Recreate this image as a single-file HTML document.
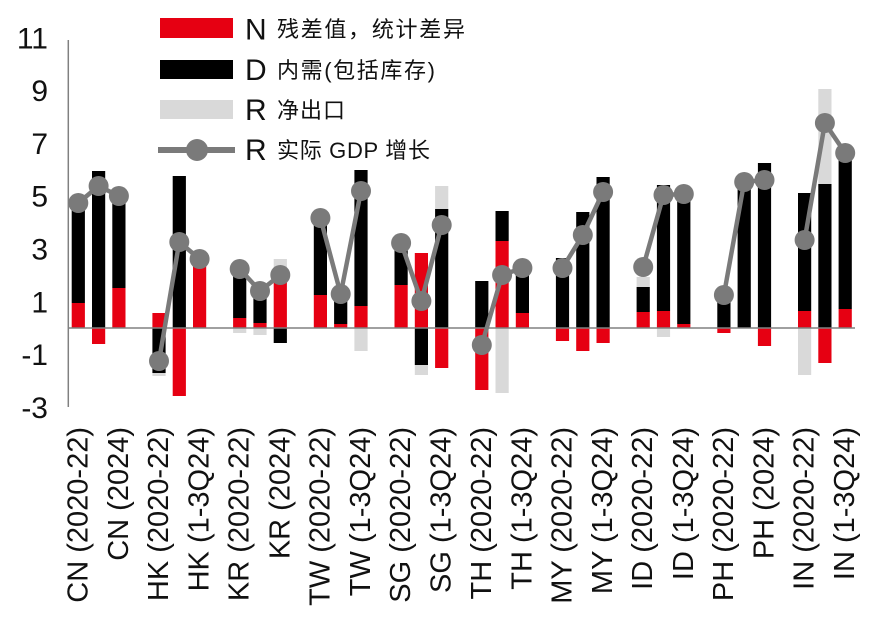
<!DOCTYPE html>
<html>
<head>
<meta charset="utf-8">
<style>
html,body{margin:0;padding:0;background:#fff;}
svg{display:block;}
text{font-family:"Liberation Sans","Noto Sans CJK SC",sans-serif;fill:#111;}
.cjk{font-family:"Liberation Sans","Noto Sans CJK SC",sans-serif;font-size:22px;}
.big{font-size:30px;}
.xl{font-size:29px;}
</style>
</head>
<body>
<svg width="880" height="630" viewBox="0 0 880 630" xmlns="http://www.w3.org/2000/svg">
<rect width="880" height="630" fill="#fff"/>

<!-- Legend -->
<rect x="160" y="18" width="73" height="20" fill="#e60012"/>
<rect x="160" y="60" width="73" height="19" fill="#000"/>
<rect x="160" y="100" width="73" height="19" fill="#d9d9d9"/>
<line x1="158" y1="150" x2="235" y2="150" stroke="#7a7a7a" stroke-width="6"/>
<circle cx="197" cy="150" r="11" fill="#7a7a7a"/>
<text class="big" x="245" y="39.3">N</text>
<text class="big" x="245" y="80">D</text>
<text class="big" x="245" y="120">R</text>
<text class="big" x="245" y="160">R</text>
<text class="cjk" x="277" y="37" textLength="188" lengthAdjust="spacing">残差值，统计差异</text>
<text class="cjk" x="277" y="78" textLength="158" lengthAdjust="spacing">内需(包括库存)</text>
<text class="cjk" x="277" y="118" textLength="68" lengthAdjust="spacing">净出口</text>
<text class="cjk" x="277" y="158" textLength="153" lengthAdjust="spacing">实际 GDP 增长</text>

<!-- Y tick labels -->
<g class="big" text-anchor="end">
<text x="48" y="48.3">11</text>
<text x="48" y="101.1">9</text>
<text x="48" y="153.9">7</text>
<text x="48" y="206.7">5</text>
<text x="48" y="259.5">3</text>
<text x="48" y="312.3">1</text>
<text x="48" y="365.1">-1</text>
<text x="48" y="417.9">-3</text>
</g>

<!-- Bars -->
<g>
<!-- CN -->
<rect x="71.7" y="303" width="13.2" height="25" fill="#e60012"/>
<rect x="71.7" y="205" width="13.2" height="98" fill="#000"/>
<rect x="92.0" y="171" width="13.2" height="157" fill="#000"/>
<rect x="92.0" y="328" width="13.2" height="16" fill="#e60012"/>
<rect x="112.3" y="288" width="13.2" height="40" fill="#e60012"/>
<rect x="112.3" y="197" width="13.2" height="91" fill="#000"/>
<!-- HK -->
<rect x="152.4" y="313" width="13.2" height="15" fill="#e60012"/>
<rect x="152.4" y="328" width="13.2" height="45" fill="#000"/>
<rect x="152.4" y="373" width="13.2" height="3" fill="#d9d9d9"/>
<rect x="172.7" y="176" width="13.2" height="152" fill="#000"/>
<rect x="172.7" y="328" width="13.2" height="68" fill="#e60012"/>
<rect x="193.0" y="262" width="13.2" height="66" fill="#e60012"/>
<!-- KR -->
<rect x="233.1" y="318" width="13.2" height="10" fill="#e60012"/>
<rect x="233.1" y="272" width="13.2" height="46" fill="#000"/>
<rect x="233.1" y="328" width="13.2" height="5" fill="#d9d9d9"/>
<rect x="253.4" y="323" width="13.2" height="5" fill="#e60012"/>
<rect x="253.4" y="292" width="13.2" height="31" fill="#000"/>
<rect x="253.4" y="328" width="13.2" height="7" fill="#d9d9d9"/>
<rect x="273.7" y="275" width="13.2" height="53" fill="#e60012"/>
<rect x="273.7" y="259" width="13.2" height="16" fill="#d9d9d9"/>
<rect x="273.7" y="328" width="13.2" height="15" fill="#000"/>
<!-- TW -->
<rect x="313.8" y="295" width="13.2" height="33" fill="#e60012"/>
<rect x="313.8" y="214" width="13.2" height="81" fill="#000"/>
<rect x="334.1" y="324" width="13.2" height="4" fill="#e60012"/>
<rect x="334.1" y="292" width="13.2" height="32" fill="#000"/>
<rect x="354.4" y="306" width="13.2" height="22" fill="#e60012"/>
<rect x="354.4" y="170" width="13.2" height="136" fill="#000"/>
<rect x="354.4" y="328" width="13.2" height="23" fill="#d9d9d9"/>
<!-- SG -->
<rect x="394.5" y="285" width="13.2" height="43" fill="#e60012"/>
<rect x="394.5" y="242" width="13.2" height="43" fill="#000"/>
<rect x="414.8" y="253" width="13.2" height="75" fill="#e60012"/>
<rect x="414.8" y="328" width="13.2" height="37" fill="#000"/>
<rect x="414.8" y="365" width="13.2" height="10" fill="#d9d9d9"/>
<rect x="435.1" y="209" width="13.2" height="119" fill="#000"/>
<rect x="435.1" y="186" width="13.2" height="23" fill="#d9d9d9"/>
<rect x="435.1" y="328" width="13.2" height="40" fill="#e60012"/>
<!-- TH -->
<rect x="475.2" y="281" width="13.2" height="47" fill="#000"/>
<rect x="475.2" y="328" width="13.2" height="62" fill="#e60012"/>
<rect x="495.5" y="241" width="13.2" height="87" fill="#e60012"/>
<rect x="495.5" y="211" width="13.2" height="30" fill="#000"/>
<rect x="495.5" y="328" width="13.2" height="65" fill="#d9d9d9"/>
<rect x="515.8" y="313" width="13.2" height="15" fill="#e60012"/>
<rect x="515.8" y="268" width="13.2" height="45" fill="#000"/>
<!-- MY -->
<rect x="555.9" y="258" width="13.2" height="70" fill="#000"/>
<rect x="555.9" y="328" width="13.2" height="13" fill="#e60012"/>
<rect x="576.2" y="212" width="13.2" height="116" fill="#000"/>
<rect x="576.2" y="328" width="13.2" height="23" fill="#e60012"/>
<rect x="596.5" y="177" width="13.2" height="151" fill="#000"/>
<rect x="596.5" y="328" width="13.2" height="15" fill="#e60012"/>
<!-- ID -->
<rect x="636.6" y="312" width="13.2" height="16" fill="#e60012"/>
<rect x="636.6" y="287" width="13.2" height="25" fill="#000"/>
<rect x="636.6" y="277" width="13.2" height="10" fill="#d9d9d9"/>
<rect x="656.9" y="311" width="13.2" height="17" fill="#e60012"/>
<rect x="656.9" y="185" width="13.2" height="126" fill="#000"/>
<rect x="656.9" y="328" width="13.2" height="9" fill="#d9d9d9"/>
<rect x="677.2" y="324" width="13.2" height="4" fill="#e60012"/>
<rect x="677.2" y="192" width="13.2" height="132" fill="#000"/>
<!-- PH -->
<rect x="717.3" y="296" width="13.2" height="32" fill="#000"/>
<rect x="717.3" y="328" width="13.2" height="5" fill="#e60012"/>
<rect x="737.6" y="183" width="13.2" height="145" fill="#000"/>
<rect x="757.9" y="163" width="13.2" height="165" fill="#000"/>
<rect x="757.9" y="328" width="13.2" height="18" fill="#e60012"/>
<!-- IN -->
<rect x="798.0" y="311" width="13.2" height="17" fill="#e60012"/>
<rect x="798.0" y="193" width="13.2" height="118" fill="#000"/>
<rect x="798.0" y="328" width="13.2" height="47" fill="#d9d9d9"/>
<rect x="818.3" y="184" width="13.2" height="144" fill="#000"/>
<rect x="818.3" y="89" width="13.2" height="95" fill="#d9d9d9"/>
<rect x="818.3" y="328" width="13.2" height="35" fill="#e60012"/>
<rect x="838.6" y="309" width="13.2" height="19" fill="#e60012"/>
<rect x="838.6" y="160" width="13.2" height="149" fill="#000"/>
</g>

<!-- Axes -->
<line x1="68.3" y1="40" x2="68.3" y2="407" stroke="#808080" stroke-width="1.5"/>
<line x1="68.3" y1="328" x2="855" y2="328" stroke="#808080" stroke-width="1.5"/>

<!-- GDP line series -->
<g fill="none" stroke="#7a7a7a" stroke-width="4.5" stroke-linejoin="round">
<polyline points="78.3,203 98.6,186 118.9,196"/>
<polyline points="159,361 179.3,242 199.6,259"/>
<polyline points="239.7,269 260,291 280.3,275"/>
<polyline points="320.4,218 340.7,294 361,191"/>
<polyline points="401.1,243 421.4,301 441.7,225"/>
<polyline points="481.8,345 502.1,275 522.4,268"/>
<polyline points="562.5,268 582.8,235 603.1,192"/>
<polyline points="643.2,267 663.5,195 683.8,194"/>
<polyline points="723.9,295 744.2,182 764.5,180"/>
<polyline points="804.6,240 824.9,123 845.2,153"/>
</g>
<g fill="#7a7a7a">
<circle cx="78.3" cy="203" r="10"/><circle cx="98.6" cy="186" r="10"/><circle cx="118.9" cy="196" r="10"/>
<circle cx="159" cy="361" r="10"/><circle cx="179.3" cy="242" r="10"/><circle cx="199.6" cy="259" r="10"/>
<circle cx="239.7" cy="269" r="10"/><circle cx="260" cy="291" r="10"/><circle cx="280.3" cy="275" r="10"/>
<circle cx="320.4" cy="218" r="10"/><circle cx="340.7" cy="294" r="10"/><circle cx="361" cy="191" r="10"/>
<circle cx="401.1" cy="243" r="10"/><circle cx="421.4" cy="301" r="10"/><circle cx="441.7" cy="225" r="10"/>
<circle cx="481.8" cy="345" r="10"/><circle cx="502.1" cy="275" r="10"/><circle cx="522.4" cy="268" r="10"/>
<circle cx="562.5" cy="268" r="10"/><circle cx="582.8" cy="235" r="10"/><circle cx="603.1" cy="192" r="10"/>
<circle cx="643.2" cy="267" r="10"/><circle cx="663.5" cy="195" r="10"/><circle cx="683.8" cy="194" r="10"/>
<circle cx="723.9" cy="295" r="10"/><circle cx="744.2" cy="182" r="10"/><circle cx="764.5" cy="180" r="10"/>
<circle cx="804.6" cy="240" r="10"/><circle cx="824.9" cy="123" r="10"/><circle cx="845.2" cy="153" r="10"/>
</g>

<!-- X labels -->
<g class="xl" text-anchor="end">
<text transform="translate(87.3,427) rotate(-90)">CN (2020-22)</text>
<text transform="translate(127.9,427) rotate(-90)">CN (2024)</text>
<text transform="translate(168,427) rotate(-90)">HK (2020-22)</text>
<text transform="translate(208.6,427) rotate(-90)">HK (1-3Q24)</text>
<text transform="translate(248.7,427) rotate(-90)">KR (2020-22)</text>
<text transform="translate(289.3,427) rotate(-90)">KR (2024)</text>
<text transform="translate(329.4,427) rotate(-90)">TW (2020-22)</text>
<text transform="translate(370,427) rotate(-90)">TW (1-3Q24)</text>
<text transform="translate(410.1,427) rotate(-90)">SG (2020-22)</text>
<text transform="translate(450.7,427) rotate(-90)">SG (1-3Q24)</text>
<text transform="translate(490.8,427) rotate(-90)">TH (2020-22)</text>
<text transform="translate(531.4,427) rotate(-90)">TH (1-3Q24)</text>
<text transform="translate(571.5,427) rotate(-90)">MY (2020-22)</text>
<text transform="translate(612.1,427) rotate(-90)">MY (1-3Q24)</text>
<text transform="translate(652.2,427) rotate(-90)">ID (2020-22)</text>
<text transform="translate(692.8,427) rotate(-90)">ID (1-3Q24)</text>
<text transform="translate(732.9,427) rotate(-90)">PH (2020-22)</text>
<text transform="translate(773.5,427) rotate(-90)">PH (2024)</text>
<text transform="translate(813.6,427) rotate(-90)">IN (2020-22)</text>
<text transform="translate(854.2,427) rotate(-90)">IN (1-3Q24)</text>
</g>
</svg>
</body>
</html>
